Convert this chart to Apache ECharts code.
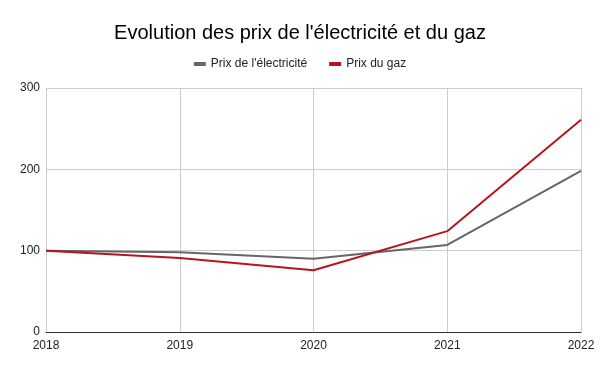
<!DOCTYPE html>
<html><head><meta charset="utf-8">
<script src="https://cdn.jsdelivr.net/npm/echarts@6/dist/echarts.min.js"></script>
<style>html,body{margin:0;padding:0;background:#fff}#c{width:600px;height:371px}</style>
</head><body><div id="c"></div>
<script>
var years = ['2018','2019','2020','2021','2022'];
var elecPrices = [100, 98, 90, 107, 198];
var gasPrices = [100, 91, 76, 124, 261];
var yTicks = [0, 100, 200, 300];

var chart = echarts.init(document.getElementById('c'));
chart.setOption({
  animation: false,
  backgroundColor: '#fff',
  textStyle: {fontFamily: 'Liberation Sans, Arial, sans-serif'},
  title: {
    text: "Evolution des prix de l'électricité et du gaz",
    left: 'center', top: 18,
    textStyle: {fontSize: 20, fontWeight: 'normal', color: '#000', fontFamily: 'Liberation Sans, Arial, sans-serif'}
  },
  legend: {
    top: 53, left: 'center',
    itemWidth: 12, itemHeight: 4, itemGap: 22,
    icon: 'rect',
    textStyle: {fontSize: 12, color: '#222', fontFamily: 'Liberation Sans, Arial, sans-serif'},
    data: ["Prix de l'électricité", 'Prix du gaz']
  },
  grid: {left: 46, right: 19, top: 88, bottom: 39, containLabel: false},
  xAxis: {
    type: 'category', data: years, boundaryGap: false,
    axisLine: {lineStyle: {color: '#333', width: 1}},
    axisTick: {show: false},
    axisLabel: {color: '#222', fontSize: 12, margin: 8, fontFamily: 'Liberation Sans, Arial, sans-serif'},
    splitLine: {show: true, lineStyle: {color: '#ccc'}}
  },
  yAxis: {
    type: 'value', min: yTicks[0], max: yTicks[yTicks.length-1], interval: 100,
    axisLine: {show: false}, axisTick: {show: false},
    axisLabel: {color: '#222', fontSize: 12, margin: 6, fontFamily: 'Liberation Sans, Arial, sans-serif'},
    splitLine: {lineStyle: {color: '#ccc'}}
  },
  series: [
    {name: "Prix de l'électricité", type: 'line', data: elecPrices, symbol: 'none',
     lineStyle: {color: '#666666', width: 2}, itemStyle: {color: '#666666'}},
    {name: 'Prix du gaz', type: 'line', data: gasPrices, symbol: 'none',
     lineStyle: {color: '#b7151c', width: 2}, itemStyle: {color: '#b7151c'}}
  ]
});
</script></body></html>
